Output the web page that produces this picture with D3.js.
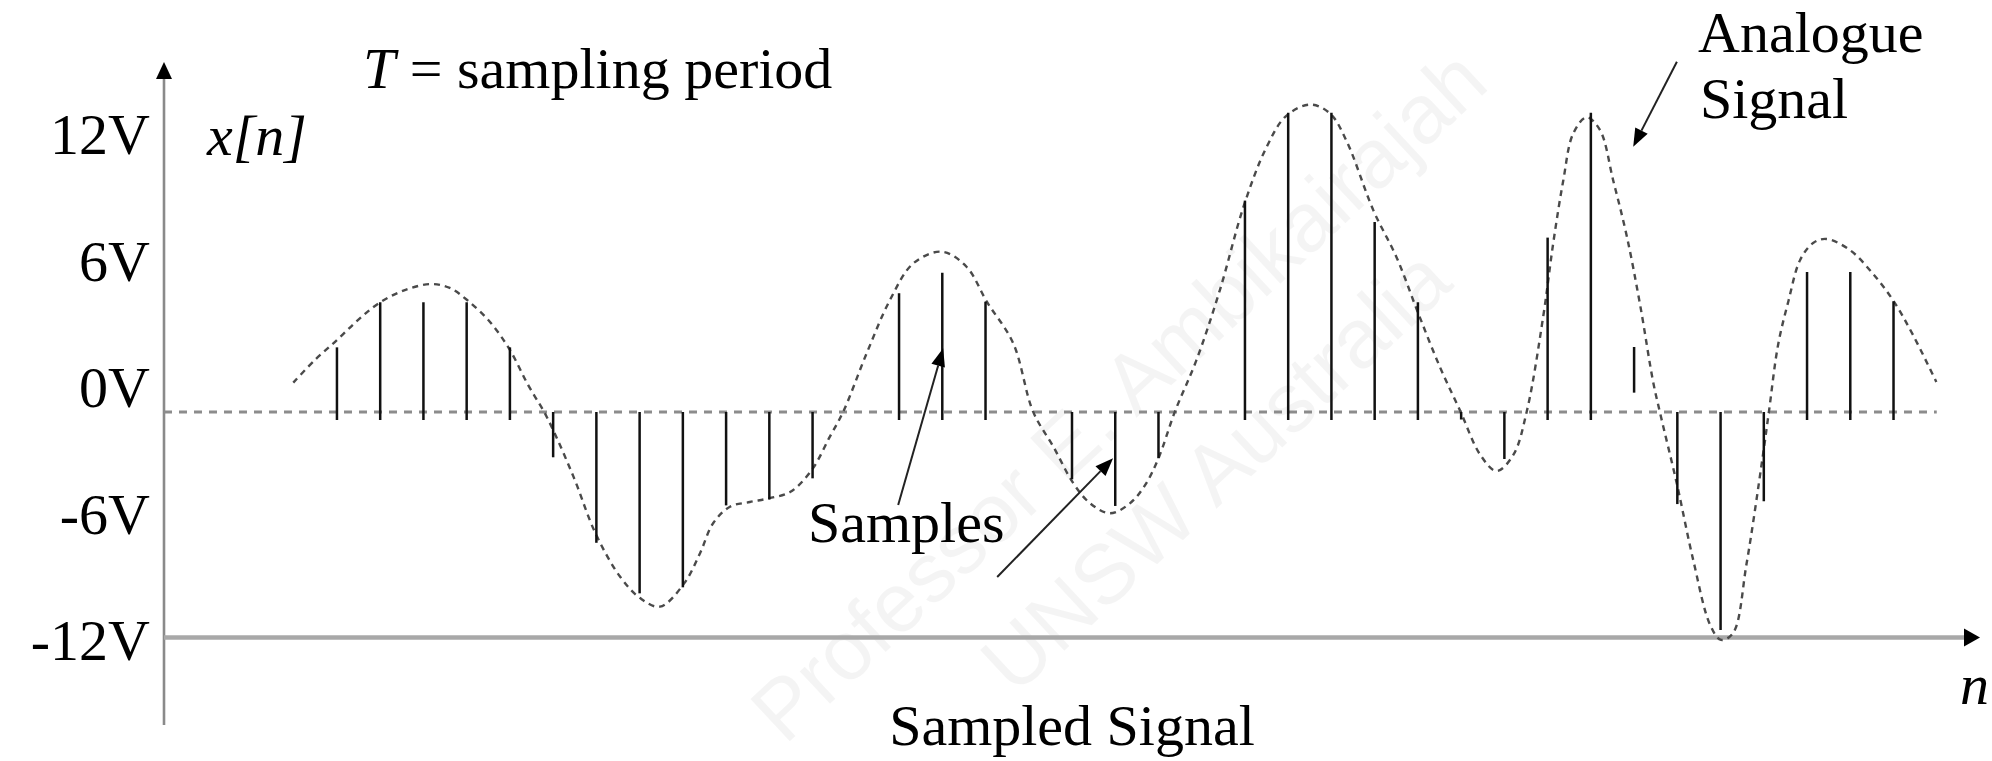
<!DOCTYPE html>
<html>
<head>
<meta charset="utf-8">
<script src="https://cdn.jsdelivr.net/npm/d3@7"></script>
<style>
  html, body { margin: 0; padding: 0; background: #fff; }
  svg { display: block; }
  text { font-family: "Liberation Serif", "Times New Roman", serif; fill: #000; }
</style>
</head>
<body>
<div id="chart"></div>
<script>
// sample index n (one per sampling period T) and the sampled value in volts
var sampleN = [0, 1, 2, 3, 4, 5, 6, 7, 8, 9, 10, 11, 12, 13, 14, 15, 16, 17, 18,
  19, 20, 21, 22, 23, 24, 25, 26, 27, 28, 29, 30, 31, 32, 33, 34, 35, 36];
var sampleV = [3.44, 5.84, 5.84, 5.84, 3.44, -2.41, -6.96, -9.65, -9.33, -4.97,
  -4.65, -3.53, 0, 6.32, 7.41, 5.87, 0, -3.58, -5.0, -2.46,
  0, 11.25, 15.93, 15.93, 10.11, 5.84, -0.4, -2.5, 9.28, 15.93,
  3.46, -4.9, -11.6, -4.75, 7.45, 7.45, 5.89];
// the one stem in the figure that does not reach the baseline
var brokenStem = { n: 30, from: 1.03 };

// analogue signal (n, volts)
var curveN = [-1.01, -0.51, 0, 0.49, 0.97, 1.57, 2.19, 2.61, 3.01, 3.54,
  4.0, 4.42, 4.85, 5.47, 5.98, 6.55, 7.01, 7.47, 8.03, 8.4,
  8.7, 9.09, 9.55, 10.0, 10.48, 10.98, 11.4, 11.71, 12.25, 12.79,
  13.33, 13.99, 14.56, 15.03, 15.64, 16.1, 16.57, 17.03, 17.42, 17.88,
  18.34, 18.69, 19.0, 19.38, 19.88, 20.42, 20.98, 21.49, 21.95, 22.51,
  22.97, 23.35, 23.97, 24.51, 25.0, 25.51, 25.98, 26.44, 26.82, 27.21,
  27.52, 27.9, 28.13, 28.36, 28.59, 28.9, 29.21, 29.52, 29.83, 30.14,
  30.44, 30.6, 30.99, 31.37, 31.76, 32.01, 32.29, 32.6, 32.97, 33.12,
  33.33, 33.57, 33.84, 34.14, 34.44, 34.99, 35.53, 36.0, 36.45, 36.99];
var curveV = [1.56, 2.77, 3.83, 4.9, 5.79, 6.49, 6.81, 6.6, 5.96, 4.79,
  3.3, 1.44, -0.25, -3.44, -6.46, -8.77, -9.9, -10.36, -9.12, -7.5,
  -5.92, -5.04, -4.79, -4.59, -4.26, -3.09, -1.31, 0.02, 3.12, 5.96,
  7.91, 8.53, 7.73, 5.87, 3.66, 0.02, -1.85, -3.79, -4.86, -5.39,
  -4.86, -3.89, -2.46, 0.02, 2.77, 6.49, 11.02, 14.05, 15.75, 16.36,
  15.88, 14.42, 10.73, 8.21, 5.3, 2.39, 0.05, -2.27, -3.14, -2.27,
  0.05, 5.11, 8.99, 12.29, 14.81, 15.68, 15.01, 12.29, 9.37, 5.69,
  1.61, -0.04, -3.83, -7.9, -11.34, -12.13, -11.76, -8.09, -2.45, 0.05,
  3.57, 5.91, 8.09, 8.99, 9.21, 8.62, 7.34, 5.91, 4.1, 1.6];

var tickValues = [12, 6, 0, -6, -12];
var tickLabels = ["12V", "6V", "0V", "-6V", "-12V"];

var width = 1992, height = 761;

var svg = d3.select("#chart").append("svg")
    .attr("width", width)
    .attr("height", height)
    .style("background", "#fff");

var x = d3.scaleLinear().domain([-4, 38]).range([164, 1980]),
    y = d3.scaleLinear().domain([-12, 12]).range([637.5, 186.5]),
    labelY = d3.scaleLinear().domain([-12, 12]).range([641.4, 135.4]);

var g = svg.append("g");

// faint watermark behind everything
var wm = g.append("g").attr("fill-opacity", 0.045);
wm.append("text")
    .attr("transform", "translate(1118,395) rotate(-43)")
    .attr("text-anchor", "middle")
    .attr("dy", "0.35em")
    .style("font-family", "Liberation Sans, Arial, sans-serif")
    .style("font-size", "84px")
    .text("Professor E. Ambikairajah");
wm.append("text")
    .attr("transform", "translate(1215,470) rotate(-43)")
    .attr("text-anchor", "middle")
    .attr("dy", "0.35em")
    .style("font-family", "Liberation Sans, Arial, sans-serif")
    .style("font-size", "84px")
    .text("UNSW Australia");

function arrow(x1, y1, x2, y2, len, half, colour, w) {
  var a = Math.atan2(y2 - y1, x2 - x1);
  var bx = x2 - len * Math.cos(a), by = y2 - len * Math.sin(a);
  g.append("line")
      .attr("x1", x1).attr("y1", y1).attr("x2", bx).attr("y2", by)
      .attr("stroke", colour).attr("stroke-width", w);
  g.append("path")
      .attr("d", "M" + x2 + "," + y2 +
        "L" + (bx + half * Math.sin(a)) + "," + (by - half * Math.cos(a)) +
        "L" + (bx - half * Math.sin(a)) + "," + (by + half * Math.cos(a)) + "Z")
      .attr("fill", "#000");
}

// y axis (vertical line with arrow) and its labels
arrow(x(-4), 725, x(-4), 62, 17, 8, "#8a8a8a", 2.6);

g.append("g")
    .attr("class", "axis axis--y")
    .attr("transform", "translate(" + x(-4) + ",0)")
    .call(d3.axisLeft(labelY).tickValues(tickValues)
      .tickFormat(function(d, i) { return tickLabels[i]; })
      .tickSize(0).tickPadding(14))
    .call(function(a) { a.select(".domain").remove(); })
    .selectAll("text")
      .attr("fill", "#000")
      .style("font-family", "Liberation Serif, Times New Roman, serif")
      .style("font-size", "58px");

// x axis at -12V
arrow(x(-4), y(-12), x(38), y(-12), 16, 9, "#a8a8a8", 4.5);

// 0V reference, dashed
g.append("line")
    .attr("x1", x(-4)).attr("x2", x(37))
    .attr("y1", y(0)).attr("y2", y(0))
    .attr("stroke", "#8c8c8c")
    .attr("stroke-width", 3)
    .attr("stroke-dasharray", "8,7");

// analogue signal, dashed
var pts = curveN.map(function(n, i) { return [n, curveV[i]]; });
g.append("path")
    .datum(pts)
    .attr("fill", "none")
    .attr("stroke", "#4a4a4a")
    .attr("stroke-width", 2.4)
    .attr("stroke-dasharray", "6,5")
    .attr("d", d3.line()
      .x(function(d) { return x(d[0]); })
      .y(function(d) { return y(d[1]); })
      .curve(d3.curveCatmullRom.alpha(0.5)));

// samples
var samples = sampleN.map(function(n, i) { return { n: n, v: sampleV[i] }; })
    .filter(function(d) { return d.v !== 0; });

g.selectAll(".stem")
    .data(samples)
  .enter().append("line")
    .attr("class", "stem")
    .attr("x1", function(d) { return x(d.n); })
    .attr("x2", function(d) { return x(d.n); })
    .attr("y1", function(d) { return d.v > 0 ? y(d.v) : y(0); })
    .attr("y2", function(d) {
      if (d.n === brokenStem.n) return y(brokenStem.from);
      return d.v > 0 ? y(0) + 8 : y(d.v);
    })
    .attr("stroke", "#111")
    .attr("stroke-width", 2.5);

// annotation arrows
arrow(x(12.98), y(-4.95), x(14.02), y(3.39), 18, 7, "#222", 2);
arrow(x(15.27), y(-8.78), x(17.95), y(-2.46), 18, 7, "#222", 2);
arrow(x(30.99), y(18.64), x(29.98), y(14.12), 18, 7, "#222", 2);

// texts
var fs = "58px";
var t = g.append("text").attr("x", 363).attr("y", 88).style("font-size", fs);
t.append("tspan").style("font-style", "italic").text("T");
t.append("tspan").text(" = sampling period");

g.append("text").attr("x", 207).attr("y", 155).style("font-size", fs)
    .style("font-style", "italic").text("x[n]");

g.append("text").attr("x", 1698).attr("y", 52).style("font-size", fs).text("Analogue");
g.append("text").attr("x", 1700).attr("y", 118).style("font-size", fs).text("Signal");

g.append("text").attr("x", 808).attr("y", 542).style("font-size", fs).text("Samples");

g.append("text").attr("x", 1072).attr("y", 745).attr("text-anchor", "middle")
    .style("font-size", fs).text("Sampled Signal");

g.append("text").attr("x", 1960).attr("y", 704).style("font-size", fs)
    .style("font-style", "italic").text("n");
</script>
</body>
</html>
